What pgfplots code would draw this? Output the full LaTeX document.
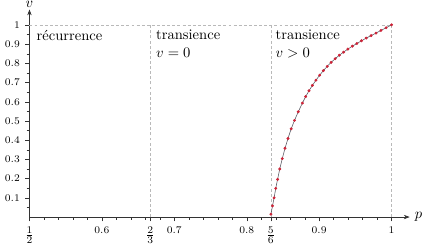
\documentclass[border=0pt]{standalone}
\usepackage{pgfplots}
\pgfplotsset{compat=1.18}
\usetikzlibrary{arrows.meta}
\definecolor{dotred}{RGB}{205,35,55}
\definecolor{curvegray}{RGB}{90,90,100}
\definecolor{dashgray}{RGB}{185,185,185}
\begin{document}
\begin{tikzpicture}
\begin{axis}[
  x=496.6pt, y=131.8pt,
  axis lines=middle,
  axis line style={-{Stealth[length=4pt,width=3pt]}, black!80},
  xmin=0.5, xmax=1.025, ymin=0, ymax=1.08,
  xtick={0.5,0.6,0.666667,0.7,0.8,0.833333,0.9,1},
  xticklabels={{\normalsize$\frac{1}{2}$},0.6,{\normalsize$\frac{2}{3}$},0.7,0.8,{\normalsize$\frac{5}{6}$},0.9,1},
  minor xtick={0.52,0.54,0.56,0.58,0.62,0.64,0.66,0.68,0.72,0.74,0.76,0.78,0.82,0.84,0.86,0.88,0.92,0.94,0.96,0.98},
  ytick={0.1,0.2,0.3,0.4,0.5,0.6,0.7,0.8,0.9,1},
  minor ytick={0.05,0.15,0.25,0.35,0.45,0.55,0.65,0.75,0.85,0.95},
  hide obscured x ticks=false,
  hide obscured y ticks=false,
  tick align=outside,
  major tick length=3pt,
  minor tick length=2pt,
  tick style={black!80},
  ticklabel style={font=\scriptsize},
  xlabel={$p$}, ylabel={$v$},
  x label style={at={(axis cs:1.025,0)}, anchor=west},
  y label style={at={(axis cs:0.5,1.08)}, anchor=south, inner sep=1pt},
  clip=false,
]
\addplot[dashgray, dash pattern=on 2pt off 1.5pt, thin] coordinates {(0.5,1) (1,1)};
\addplot[dashgray, dash pattern=on 2pt off 1.5pt, thin] coordinates {(0.666667,0) (0.666667,1)};
\addplot[dashgray, dash pattern=on 2pt off 1.5pt, thin] coordinates {(0.833333,0) (0.833333,1)};
\addplot[dashgray, dash pattern=on 2pt off 1.5pt, thin] coordinates {(1,0) (1,1)};
\addplot[curvegray, thin, mark=*, mark size=0.8pt,
  mark options={dotred, draw=dotred, fill=dotred}] table {
p v
0.8335 0.015
0.8356 0.058
0.8378 0.100
0.8401 0.149
0.8426 0.196
0.8456 0.250
0.8491 0.304
0.8529 0.358
0.8570 0.409
0.8614 0.459
0.8660 0.503
0.8712 0.548
0.8769 0.593
0.8814 0.627
0.8860 0.657
0.8907 0.685
0.8956 0.712
0.9007 0.738
0.9059 0.762
0.9112 0.784
0.9166 0.805
0.9222 0.824
0.9279 0.842
0.9337 0.858
0.9397 0.874
0.9459 0.889
0.9521 0.903
0.9585 0.917
0.9650 0.931
0.9717 0.944
0.9785 0.957
0.9854 0.971
0.9925 0.985
1.0000 1.000
};
\node[anchor=north west, align=left, inner sep=0pt] at (axis cs:0.5095,0.975) {récurrence};
\node[anchor=north west, align=left, inner sep=0pt] at (axis cs:0.6745,0.975) {transience\\$v=0$};
\node[anchor=north west, align=left, inner sep=0pt] at (axis cs:0.8395,0.975) {transience\\$v>0$};
\end{axis}
\end{tikzpicture}
\end{document}
